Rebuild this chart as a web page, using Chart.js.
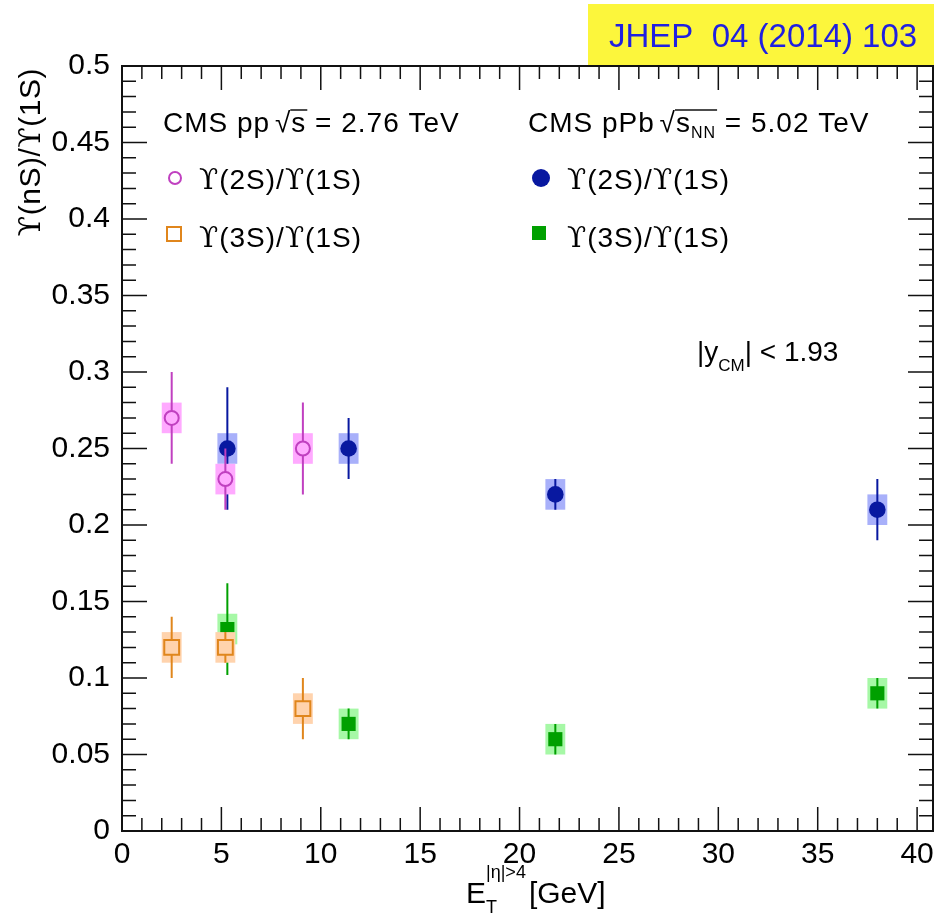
<!DOCTYPE html>
<html>
<head>
<meta charset="utf-8">
<script src="https://cdn.jsdelivr.net/npm/chart.js@4.4.1/dist/chart.umd.min.js"></script>
<style>
  html, body { margin: 0; padding: 0; background: #fff; }
  #wrap { width: 934px; height: 919px; position: relative; }
</style>
</head>
<body>
<div id="wrap"><canvas id="c" width="934" height="919"></canvas></div>
<script>
// --- data ---
const ppX = [2.5, 5.2, 9.1];
const pp2S = [0.27, 0.23, 0.25];
const pp2SStat = [0.03, 0.02, 0.03];
const pp2SSyst = [0.01, 0.01, 0.01];
const pp3S = [0.12, 0.12, 0.08];
const pp3SStat = [0.02, 0.01, 0.02];
const pp3SSyst = [0.01, 0.01, 0.01];

const pPbX = [5.3, 11.4, 21.8, 38.0];
const pPb2S = [0.25, 0.25, 0.22, 0.21];
const pPb2SStat = [0.04, 0.02, 0.01, 0.02];
const pPb2SSyst = [0.01, 0.01, 0.01, 0.01];
const pPb3S = [0.132, 0.07, 0.06, 0.09];
const pPb3SStat = [0.03, 0.01, 0.01, 0.01];
const pPb3SSyst = [0.01, 0.01, 0.01, 0.01];

const xTicks = [0, 5, 10, 15, 20, 25, 30, 35, 40];
const xTickLabels = ['0', '5', '10', '15', '20', '25', '30', '35', '40'];
const yTicks = [0, 0.05, 0.1, 0.15, 0.2, 0.25, 0.3, 0.35, 0.4, 0.45, 0.5];
const yTickLabels = ['0', '0.05', '0.1', '0.15', '0.2', '0.25', '0.3', '0.35', '0.4', '0.45', '0.5'];

const FONT = "'Liberation Sans', Arial, Helvetica, sans-serif";
const SERIF = "'DejaVu Serif', 'Liberation Serif', serif";
const UPS = '\u03D2';
const BOX_HALF = 0.5; // half width of the syst. boxes, x units

function pts(xs, ys) { return xs.map((x, i) => ({ x: x, y: ys[i] })); }

// syst. boxes + stat. bars, drawn just before each dataset's markers
const errPlugin = {
  id: 'errs',
  beforeDatasetDraw(chart, args) {
    const ds = chart.data.datasets[args.index];
    const xs = chart.scales.x, ys = chart.scales.y, ctx = chart.ctx;
    ctx.save();
    ds.data.forEach((p, i) => {
      const px = xs.getPixelForValue(p.x);
      const x0 = xs.getPixelForValue(p.x - BOX_HALF), x1 = xs.getPixelForValue(p.x + BOX_HALF);
      const y0 = ys.getPixelForValue(p.y + ds.syst[i]), y1 = ys.getPixelForValue(p.y - ds.syst[i]);
      ctx.fillStyle = ds.boxColor;
      ctx.fillRect(x0, y0, x1 - x0, y1 - y0);
      const py = ys.getPixelForValue(p.y);
      const top = ys.getPixelForValue(p.y + ds.stat[i]);
      const bot = ys.getPixelForValue(p.y - ds.stat[i]);
      const gap = ds.gap;
      ctx.strokeStyle = ds.borderColor;
      ctx.lineWidth = 2;
      ctx.beginPath();
      if (top < py - gap) { ctx.moveTo(px, top); ctx.lineTo(px, py - gap); }
      if (bot > py + gap) { ctx.moveTo(px, py + gap); ctx.lineTo(px, bot); }
      ctx.stroke();
    });
    ctx.restore();
  }
};

// runs: [text, size, dy, family]
function runsWidth(ctx, runs) {
  let w = 0;
  runs.forEach(r => { ctx.font = r[1] + 'px ' + (r[3] || FONT); w += ctx.measureText(r[0]).width; });
  return w;
}
function drawRuns(ctx, x, y, runs) {
  runs.forEach(r => {
    ctx.font = r[1] + 'px ' + (r[3] || FONT);
    ctx.fillText(r[0], x, y + (r[2] || 0));
    x += ctx.measureText(r[0]).width;
  });
  return x;
}
function upsRuns(n, size) {
  return [[UPS, size, 0, SERIF], ['(' + n + ')/', size], [UPS, size, 0, SERIF], ['(1S)', size]];
}

const framePlugin = {
  id: 'frame',
  afterDraw(chart) {
    const ctx = chart.ctx, a = chart.chartArea;
    const xs = chart.scales.x, ys = chart.scales.y;
    ctx.save();
    ctx.strokeStyle = '#111';
    ctx.lineWidth = 1.5;
    ctx.beginPath();
    for (let i = 0; i <= 40; i++) {
      const px = xs.getPixelForValue(i);
      const len = i % 5 === 0 ? 24 : 13;
      ctx.moveTo(px, a.bottom); ctx.lineTo(px, a.bottom - len);
      ctx.moveTo(px, a.top); ctx.lineTo(px, a.top + len);
    }
    for (let i = 0; i <= 50; i++) {
      const py = ys.getPixelForValue(i / 100);
      const len = i % 5 === 0 ? 25 : 14;
      ctx.moveTo(a.left, py); ctx.lineTo(a.left + len, py);
      ctx.moveTo(a.right, py); ctx.lineTo(a.right - len, py);
    }
    ctx.stroke();
    ctx.lineWidth = 2;
    ctx.strokeRect(a.left, a.top, a.right - a.left, a.bottom - a.top);

    // journal tag
    ctx.fillStyle = '#fcf63c';
    ctx.fillRect(588, 4, 346, 61);
    ctx.fillStyle = '#2020e0';
    ctx.font = '33px ' + FONT;
    ctx.textBaseline = 'alphabetic';
    ctx.fillText('JHEP  04 (2014) 103', 609, 47);

    ctx.fillStyle = '#000';
    // y title, right-aligned at the top of the frame
    ctx.save();
    ctx.letterSpacing = '0.5px';
    const yt = upsRuns('nS', 30);
    const ytw = runsWidth(ctx, yt);
    ctx.translate(40, 68);
    ctx.rotate(-Math.PI / 2);
    drawRuns(ctx, -ytw, 0, yt);
    ctx.restore();

    // x title
    ctx.fillStyle = '#000';
    ctx.font = '30px ' + FONT;
    const ex = 466, ey = 903;
    ctx.fillText('E', ex, ey);
    const ew = ctx.measureText('E').width;
    ctx.font = '18px ' + FONT;
    ctx.fillText('T', ex + ew, ey + 10);
    const sx = drawRuns(ctx, ex + ew, ey - 25, [['|\u03B7|>4', 18, 0]]);
    drawRuns(ctx, sx + 3, ey, [['[GeV]', 30, 0]]);

    // legend headers
    const LF = 28;
    ctx.letterSpacing = '1px';
    let x = drawRuns(ctx, 163, 132, [['CMS pp ', LF]]);
    ctx.font = LF + 'px ' + FONT;
    ctx.fillText('\u221A', x - 4, 132);
    x += ctx.measureText('\u221A').width - 4;
    const sW = ctx.measureText('s').width;
    ctx.fillText('s', x, 132);
    ctx.lineWidth = 1.5;
    ctx.beginPath(); ctx.moveTo(x - 1, 132 - 22); ctx.lineTo(x + sW + 1, 132 - 22); ctx.stroke();
    drawRuns(ctx, x + sW, 132, [[' = 2.76 TeV', LF]]);

    x = drawRuns(ctx, 528, 132, [['CMS pPb ', LF]]);
    ctx.font = LF + 'px ' + FONT;
    ctx.fillText('\u221A', x - 4, 132);
    x += ctx.measureText('\u221A').width - 4;
    const x2 = drawRuns(ctx, x, 132, [['s', LF], ['NN', 16, 6]]);
    ctx.beginPath(); ctx.moveTo(x - 1, 132 - 22); ctx.lineTo(x2 + 1, 132 - 22); ctx.stroke();
    drawRuns(ctx, x2, 132, [[' = 5.02 TeV', LF]]);

    // legend rows
    drawRuns(ctx, 199, 189, upsRuns('2S', LF));
    drawRuns(ctx, 199, 247, upsRuns('3S', LF));
    drawRuns(ctx, 567, 189, upsRuns('2S', LF));
    drawRuns(ctx, 567, 247, upsRuns('3S', LF));
    ctx.letterSpacing = '0px';

    ctx.lineWidth = 2;
    ctx.strokeStyle = '#c040c0';
    ctx.beginPath(); ctx.arc(175, 178, 6, 0, 2 * Math.PI); ctx.stroke();
    ctx.strokeStyle = '#e0861c';
    ctx.strokeRect(167, 227, 14, 14);
    ctx.fillStyle = '#0818a0';
    ctx.beginPath(); ctx.arc(541, 178, 9, 0, 2 * Math.PI); ctx.fill();
    ctx.fillStyle = '#00a000';
    ctx.fillRect(532, 226, 14, 14);

    // rapidity window
    ctx.fillStyle = '#000';
    drawRuns(ctx, 697, 361, [['|y', 28], ['CM', 17, 10], ['| < 1.93', 28]]);
    ctx.restore();
  }
};

const ctx = document.getElementById('c').getContext('2d');
new Chart(ctx, {
  type: 'scatter',
  data: {
    datasets: [
      {
        label: 'pp ' + UPS + '(2S)/' + UPS + '(1S)',
        data: pts(ppX, pp2S), stat: pp2SStat, syst: pp2SSyst,
        pointStyle: 'circle', pointRadius: 7, borderWidth: 2,
        borderColor: '#c040c0', backgroundColor: 'rgba(0,0,0,0)',
        boxColor: '#ffaaff', gap: 7
      },
      {
        label: 'pp ' + UPS + '(3S)/' + UPS + '(1S)',
        data: pts(ppX, pp3S), stat: pp3SStat, syst: pp3SSyst,
        pointStyle: 'rect', pointRadius: 10.5, borderWidth: 2,
        borderColor: '#e0861c', backgroundColor: 'rgba(0,0,0,0)',
        boxColor: '#ffd3ad', gap: 7
      },
      {
        label: 'pPb ' + UPS + '(2S)/' + UPS + '(1S)',
        data: pts(pPbX, pPb2S), stat: pPb2SStat, syst: pPb2SSyst,
        pointStyle: 'circle', pointRadius: 8.3, borderWidth: 0,
        borderColor: '#0818a0', backgroundColor: '#0818a0',
        boxColor: '#a8b0fa', gap: 0
      },
      {
        label: 'pPb ' + UPS + '(3S)/' + UPS + '(1S)',
        data: pts(pPbX, pPb3S), stat: pPb3SStat, syst: pPb3SSyst,
        pointStyle: 'rect', pointRadius: 10, borderWidth: 0,
        borderColor: '#00a000', backgroundColor: '#00a000',
        boxColor: '#a6f8a6', gap: 0
      }
    ]
  },
  options: {
    responsive: false,
    animation: false,
    events: [],
    layout: { autoPadding: false, padding: { top: 66, right: 1, left: 0, bottom: 0 } },
    plugins: { legend: { display: false }, tooltip: { enabled: false } },
    scales: {
      x: {
        type: 'linear', min: 0, max: 40.8,
        afterFit: s => { s.height = 88; s.paddingLeft = 0; s.paddingRight = 0; },
        afterBuildTicks: s => { s.ticks = xTicks.map(v => ({ value: v })); },
        grid: { display: false }, border: { display: false },
        ticks: {
          autoSkip: false, maxRotation: 0, padding: -2, color: '#000',
          font: { family: FONT, size: 30 },
          callback: (v, i) => xTickLabels[i]
        }
      },
      y: {
        type: 'linear', min: 0, max: 0.5,
        afterFit: s => { s.width = 122; s.paddingTop = 0; s.paddingBottom = 0; },
        afterBuildTicks: s => { s.ticks = yTicks.map(v => ({ value: v })); },
        grid: { display: false }, border: { display: false },
        ticks: {
          autoSkip: false, padding: 4, color: '#000',
          font: { family: FONT, size: 30 },
          callback: (v, i) => yTickLabels[i]
        }
      }
    }
  },
  plugins: [errPlugin, framePlugin]
});
</script>
</body>
</html>
